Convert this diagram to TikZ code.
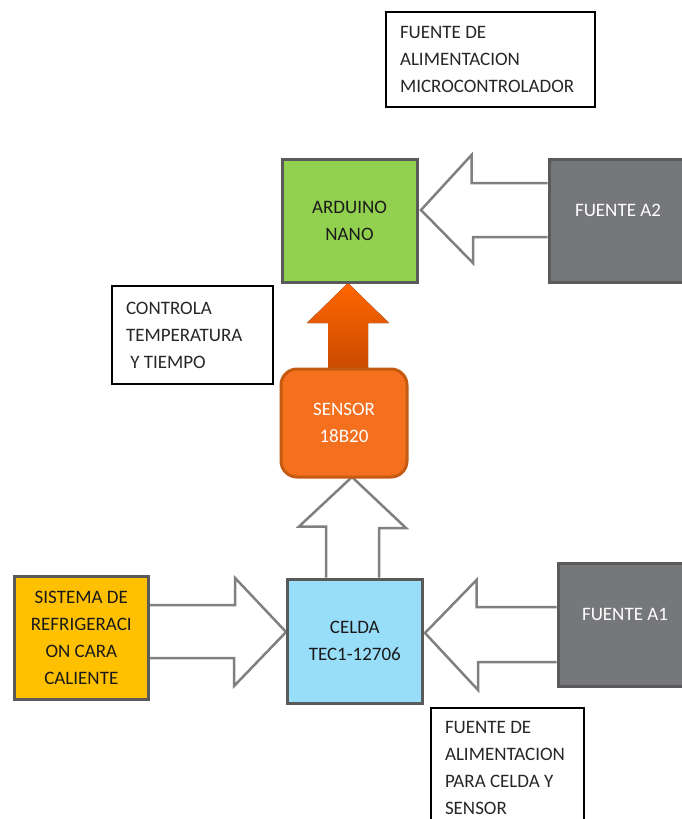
\documentclass[tikz,border=0pt]{standalone}
\usepackage{fontspec}
\setmainfont{Carlito}
\usetikzlibrary{positioning,calc,backgrounds}
\definecolor{verde}{HTML}{92D050}
\definecolor{gris}{HTML}{76777A}
\definecolor{borde}{HTML}{5A5A5A}
\definecolor{naranja}{HTML}{F4701E}
\definecolor{naranjaborde}{HTML}{C55A11}
\definecolor{naranjaclaro}{HTML}{FF6600}
\definecolor{naranjaoscuro}{HTML}{C94A00}
\definecolor{amarillo}{HTML}{FFC000}
\definecolor{celeste}{HTML}{99DEF9}
\definecolor{flechagris}{HTML}{808080}
\definecolor{tinta}{HTML}{1A1A1A}
\definecolor{notatinta}{HTML}{262626}
\tikzset{bloque/.style={draw=borde, line width=3pt, align=center, inner sep=0pt, text=tinta, font=\fontsize{19}{27}\selectfont}}
\tikzset{nota/.style={draw=black, line width=1.2pt, align=flush left, inner xsep=14pt, inner ysep=0pt, text=notatinta, font=\fontsize{19}{27}\selectfont}}
\tikzset{hueca/.style={draw=flechagris, line width=2.5pt, fill=white, line join=miter}}

\begin{document}
\begin{tikzpicture}[x=1pt, y=-1pt]
  \useasboundingbox (0,0) rectangle (681,819);

  % Notas de texto
  \node[nota, text width=181pt, minimum height=95pt] (notamicro) at (490.5,59.5) {FUENTE DE\\ALIMENTACION\\MICROCONTROLADOR};
  \node[nota, text width=133pt, minimum height=98pt] (notacontrol) at (192.5,335) {CONTROLA\\TEMPERATURA\\\ Y TIEMPO};
  \node[nota, text width=125pt, minimum height=119pt] (notacelda) at (507.5,767.5) {FUENTE DE\\ALIMENTACION\\PARA CELDA Y\\SENSOR};

  % Bloques principales
  \node[bloque, fill=verde, minimum width=135pt, minimum height=123pt] (arduino) at (349.5,220.5) {ARDUINO\\NANO};
  \node[bloque, fill=gris, text=white, minimum width=138pt, minimum height=123pt, text depth=20pt] (fuenteA2) at (618,220.5) {FUENTE A2};
  \node[bloque, fill=naranja, draw=naranjaborde, rounded corners=16pt, text=white, minimum width=126pt, minimum height=108pt] (sensor) at (344,423) {SENSOR\\18B20};
  \node[bloque, fill=amarillo, minimum width=134.6pt, minimum height=123pt] (refrig) at (81.3,637.5) {SISTEMA DE\\REFRIGERACI\\ON CARA\\CALIENTE};
  \node[bloque, fill=celeste, minimum width=134.4pt, minimum height=124pt] (celda) at (354.8,641) {CELDA\\TEC1-12706};
  \node[bloque, fill=gris, text=white, minimum width=134pt, minimum height=123pt, text depth=20pt] (fuenteA1) at (625,624.5) {FUENTE A1};

  % Flechas de bloque
  \begin{pgfonlayer}{background}
    \draw[hueca] ($(fuenteA2.west)+(0,-37.5)$) -- ++(-76,0) -- ++(0,-28) -- ($(arduino.east)+(2.5,-10.5)$) -- ++(52,53) -- ++(0,-26) -- ($(fuenteA2.west)+(0,16.5)$);
    \draw[hueca] ($(refrig.east)+(0,-32.5)$) -- ++(85,0) -- ++(0,-27) -- ($(celda.west)+(0,-9)$) -- ++(-52,54) -- ++(0,-28) -- ($(refrig.east)+(0,20.5)$);
    \draw[hueca] ($(fuenteA1.west)+(0,-17.5)$) -- ++(-80,0) -- ++(0,-27) -- ($(celda.east)+(1.5,-8)$) -- ++(53,57) -- ++(0,-28) -- ($(fuenteA1.west)+(0,37.5)$);
    \draw[hueca] ($(celda.north)+(-28.8,0)$) -- ++(0,-51) -- ++(-27,0) -- ($(sensor.south)+(8,-1.5)$) -- ++(54,51) -- ++(-27,0) -- ($(celda.north)+(24.2,0)$);
    \fill[top color=naranjaclaro, bottom color=naranjaoscuro] ($(sensor.north)+(-16,3.5)$) -- ++(0,-48) -- ++(-21,0) -- ($(arduino.south)+(-1.5,-0.5)$) -- ++(41,40) -- ++(-21,0) -- ($(sensor.north)+(24,3.5)$) -- cycle;
  \end{pgfonlayer}
\end{tikzpicture}
\end{document}
